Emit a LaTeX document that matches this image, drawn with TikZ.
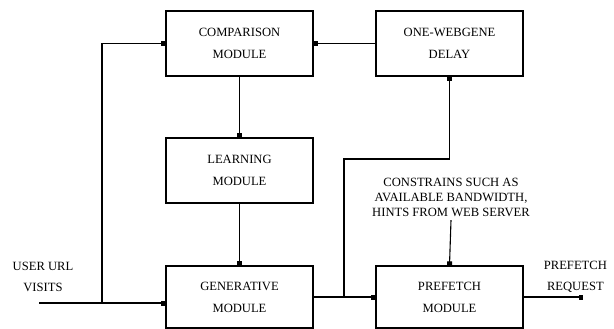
\documentclass[tikz,border=0pt]{standalone}
\usepackage{fontspec}
\setmainfont{Liberation Serif}
\usetikzlibrary{arrows.meta}
\begin{document}
\begin{tikzpicture}[x=1pt,y=-1pt,line width=1.1pt,
            block/.style={draw,line width=1.3pt,minimum width=147pt,minimum height=65pt,align=center,font=\fontsize{12.6}{22}\selectfont},
            lbl/.style={align=center,font=\fontsize{12.6}{21}\selectfont},
            tip/.style={-{Rectangle[length=4pt,width=5pt]}}]
            \useasboundingbox (0,0) rectangle (614,329);
            \node[block] (comp) at (239.5,43.5) {COMPARISON\\MODULE};
            \node[block] (learn) at (239.5,170.5) {LEARNING\\MODULE};
            \node[block,minimum height=62pt] (gen) at (239.5,297) {GENERATIVE\\MODULE};
            \node[block] (delay) at (449.5,43.5) {ONE-WEBGENE\\DELAY};
            \node[block,minimum height=62pt] (pref) at (449.5,297) {PREFETCH\\MODULE};
            \node[lbl] (user) at (43,277) {USER URL\\VISITS};
            \node[lbl,anchor=west] (req) at (540,277) {PREFETCH\\REQUEST};
            \node[lbl,font=\fontsize{12.6}{15}\selectfont] (cons) at (451,197) {CONSTRAINS SUCH AS\\AVAILABLE BANDWIDTH,\\HINTS FROM WEB SERVER};
            \coordinate (in) at (39,303); \coordinate (j1) at (102,303);
            \coordinate (j2) at (344,297); \coordinate (up) at (344,159);
            \coordinate (out) at (583,297);
            \draw[tip] (in) -- (gen.west |- in);
            \draw[tip] (j1) |- (comp.west);
            \draw[tip] (comp) -- (learn); \draw[tip] (learn) -- (gen);
            \draw[tip] (gen) -- (pref);
            \draw[tip] (j2) -- (up) -| (delay.south);
            \draw[tip] (delay) -- (comp);
            \draw[tip] (cons.south) -- (pref.north);
            \draw[tip] (pref) -- (out);
            \end{tikzpicture}
\end{document}
